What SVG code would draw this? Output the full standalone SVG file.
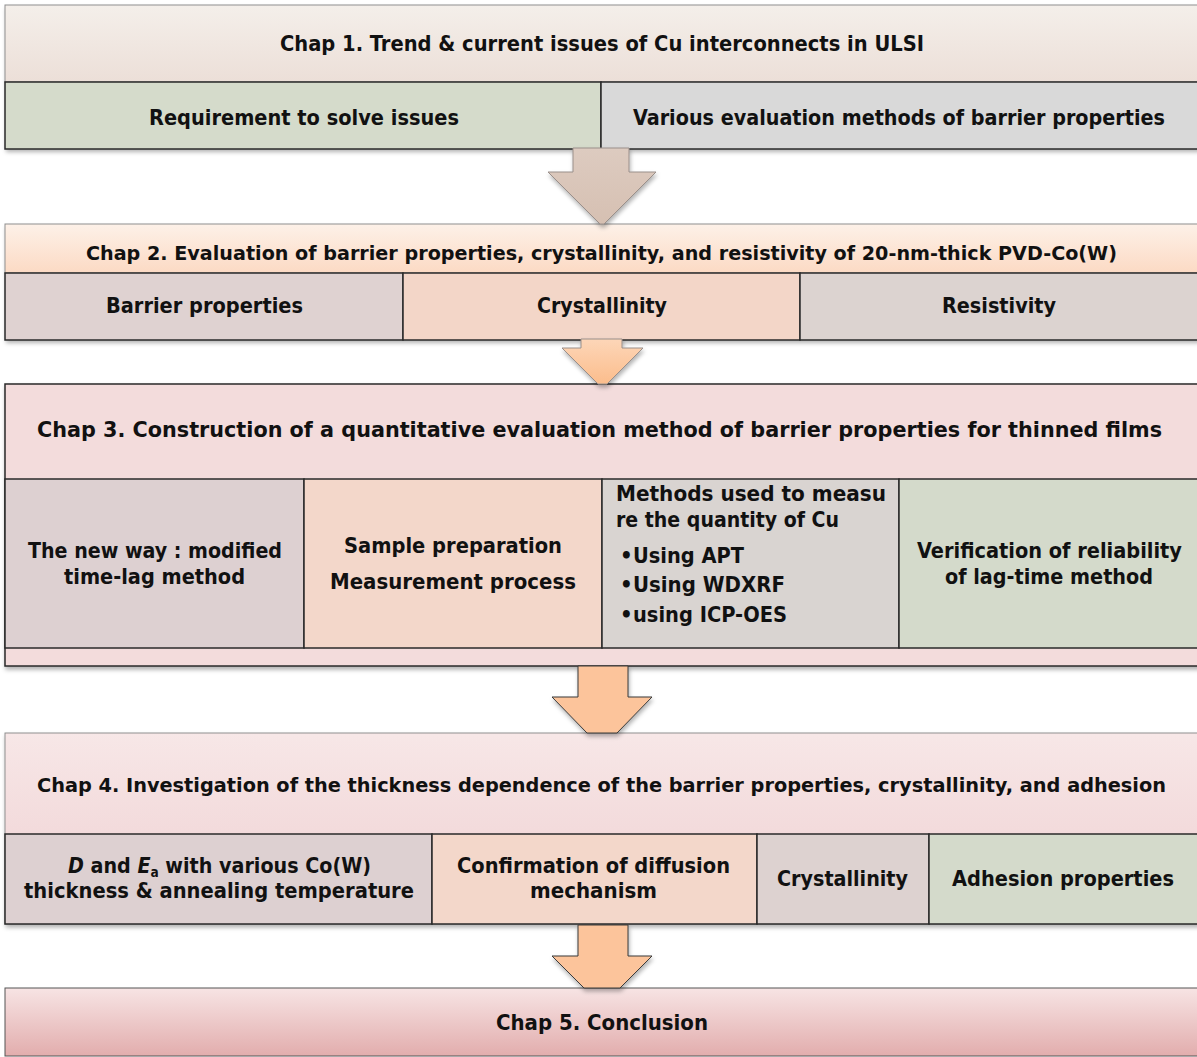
<svg xmlns="http://www.w3.org/2000/svg" width="1197" height="1057" viewBox="0 0 1197 1057">
<style>
.c{font-family:"Liberation Sans Narrow","DejaVu Sans Condensed","Liberation Sans",sans-serif;font-weight:bold;fill:#111;font-size:22px}
.h{font-size:22px}
.v{font-family:"DejaVu Sans","Verdana","Liberation Sans",sans-serif;font-weight:bold;fill:#111;font-size:21px}
.vh{font-size:19px}
.cell{stroke:#2a2a2a;stroke-width:1.5}
.frame{stroke:#8f8f8f;stroke-width:1}
.arrA{stroke:#9a8f8a;stroke-width:1}
.arrB{stroke:#3a3a3a;stroke-width:1}
</style>
<defs>
<filter id="sh" x="-5%" y="-20%" width="110%" height="150%">
<feDropShadow dx="1" dy="3" stdDeviation="2" flood-color="#000" flood-opacity="0.3"/>
</filter>
<linearGradient id="g1" x1="0" y1="0" x2="0" y2="1"><stop offset="0" stop-color="#f4efea"/><stop offset="1" stop-color="#ecdfd8"/></linearGradient>
<linearGradient id="g2" x1="0" y1="0" x2="0" y2="1"><stop offset="0" stop-color="#fdf1e8"/><stop offset="1" stop-color="#fcdac4"/></linearGradient>
<linearGradient id="g4" x1="0" y1="0" x2="0" y2="1"><stop offset="0" stop-color="#f7e7e7"/><stop offset="1" stop-color="#efcfd1"/></linearGradient>
<linearGradient id="g5" x1="0" y1="0" x2="0" y2="1"><stop offset="0" stop-color="#f7e4e4"/><stop offset="1" stop-color="#e2adad"/></linearGradient>
<linearGradient id="ga" x1="0" y1="0" x2="0" y2="1"><stop offset="0" stop-color="#ddcbc0"/><stop offset="1" stop-color="#d6c0b2"/></linearGradient>
<linearGradient id="gb" x1="0" y1="0" x2="0" y2="1"><stop offset="0" stop-color="#fdd6b8"/><stop offset="1" stop-color="#fbbd8c"/></linearGradient>
</defs>

<g id="chap1">
<rect x="5" y="5" width="1195" height="144" fill="#fff" filter="url(#sh)"/>
<rect x="5" y="5" width="1195" height="77" fill="url(#g1)" class="frame"/>
<rect x="5" y="82" width="596" height="67" fill="#d5dbcb" class="cell"/>
<rect x="601" y="82" width="599" height="67" fill="#d9d9d9" class="cell"/>
<text class="c" x="280" y="51" textLength="644" lengthAdjust="spacingAndGlyphs">Chap 1. Trend &amp; current issues of Cu interconnects in ULSI</text>
<text class="c" x="149" y="125" textLength="310" lengthAdjust="spacingAndGlyphs">Requirement to solve issues</text>
<text class="c" x="633" y="125" textLength="532" lengthAdjust="spacingAndGlyphs">Various evaluation methods of barrier properties</text>
</g>

<g id="chap2">
<rect x="5" y="224" width="1195" height="116" fill="#fff" filter="url(#sh)"/>
<rect x="5" y="224" width="1195" height="49" fill="url(#g2)" class="frame"/>
<rect x="5" y="273" width="398" height="67" fill="#dfd2d1" class="cell"/>
<rect x="403" y="273" width="397" height="67" fill="#f3d6c8" class="cell"/>
<rect x="800" y="273" width="400" height="67" fill="#dcd3d0" class="cell"/>
<text class="v vh" x="86" y="260" textLength="1031" lengthAdjust="spacingAndGlyphs">Chap 2. Evaluation of barrier properties, crystallinity, and resistivity of 20-nm-thick PVD-Co(W)</text>
<text class="v" x="106" y="313" textLength="197" lengthAdjust="spacingAndGlyphs">Barrier properties</text>
<text class="v" x="537" y="313" textLength="130" lengthAdjust="spacingAndGlyphs">Crystallinity</text>
<text class="v" x="942" y="313" textLength="114" lengthAdjust="spacingAndGlyphs">Resistivity</text>
</g>

<g id="chap3">
<rect x="5" y="384" width="1195" height="282" fill="#f3dcdc" class="cell" filter="url(#sh)"/>
<rect x="5" y="479" width="299" height="169" fill="#ddd0d1" class="cell"/>
<rect x="304" y="479" width="298" height="169" fill="#f3d7ca" class="cell"/>
<rect x="602" y="479" width="297" height="169" fill="#d9d4d1" class="cell"/>
<rect x="899" y="479" width="301" height="169" fill="#d4dacb" class="cell"/>
<text class="c h" x="37" y="437" textLength="1125" lengthAdjust="spacingAndGlyphs">Chap 3. Construction of a quantitative evaluation method of barrier properties for thinned films</text>
<text class="c" x="28" y="558" textLength="254" lengthAdjust="spacingAndGlyphs">The new way : modified</text>
<text class="c" x="64" y="584" textLength="181" lengthAdjust="spacingAndGlyphs">time-lag method</text>
<text class="c" x="344" y="553" textLength="218" lengthAdjust="spacingAndGlyphs">Sample preparation</text>
<text class="c" x="330" y="589" textLength="246" lengthAdjust="spacingAndGlyphs">Measurement process</text>
<text class="c" x="616" y="501" textLength="270" lengthAdjust="spacingAndGlyphs">Methods used to measu</text>
<text class="c" x="616" y="527" textLength="223" lengthAdjust="spacingAndGlyphs">re the quantity of Cu</text>
<text class="c" x="620" y="563">•</text>
<text class="c" x="633" y="563" textLength="111" lengthAdjust="spacingAndGlyphs">Using APT</text>
<text class="c" x="620" y="592">•</text>
<text class="c" x="633" y="592" textLength="152" lengthAdjust="spacingAndGlyphs">Using WDXRF</text>
<text class="c" x="620" y="622">•</text>
<text class="c" x="633" y="622" textLength="154" lengthAdjust="spacingAndGlyphs">using ICP-OES</text>
<text class="c" x="917" y="558" textLength="265" lengthAdjust="spacingAndGlyphs">Verification of reliability</text>
<text class="c" x="945" y="584" textLength="208" lengthAdjust="spacingAndGlyphs">of lag-time method</text>
</g>

<g id="chap4">
<rect x="5" y="733" width="1195" height="191" fill="url(#g4)" class="frame" filter="url(#sh)"/>
<rect x="5" y="834" width="427" height="90" fill="#ddd0d1" class="cell"/>
<rect x="432" y="834" width="325" height="90" fill="#f3d7ca" class="cell"/>
<rect x="757" y="834" width="172" height="90" fill="#ddd2d0" class="cell"/>
<rect x="929" y="834" width="271" height="90" fill="#d4dacb" class="cell"/>
<text class="c" x="37" y="792" textLength="1129" lengthAdjust="spacingAndGlyphs" style="font-size:20px">Chap 4. Investigation of the thickness dependence of the barrier properties, crystallinity, and adhesion</text>
<text class="c" x="68" y="873" textLength="303" lengthAdjust="spacingAndGlyphs"><tspan font-style="italic">D</tspan> and <tspan font-style="italic">E</tspan><tspan font-size="14" dy="4">a</tspan><tspan dy="-4"> with various Co(W)</tspan></text>
<text class="c" x="24" y="898" textLength="390" lengthAdjust="spacingAndGlyphs">thickness &amp; annealing temperature</text>
<text class="c" x="457" y="873" textLength="273" lengthAdjust="spacingAndGlyphs">Confirmation of diffusion</text>
<text class="c" x="530" y="898" textLength="127" lengthAdjust="spacingAndGlyphs">mechanism</text>
<text class="c" x="777" y="886" textLength="131" lengthAdjust="spacingAndGlyphs">Crystallinity</text>
<text class="c" x="952" y="886" textLength="222" lengthAdjust="spacingAndGlyphs">Adhesion properties</text>
</g>

<g id="chap5">
<rect x="5" y="988" width="1195" height="68" fill="url(#g5)" stroke="#555" stroke-width="1"/>
<text class="c" x="496" y="1030" textLength="212" lengthAdjust="spacingAndGlyphs">Chap 5. Conclusion</text>
</g>

<g id="connectors">
<polygon points="573,148 629,148 629,172 656,172 604,224 600,224 548,172 573,172" fill="url(#ga)" class="arrA" filter="url(#sh)"/>
<polygon points="581,339 622,339 622,348 643,348 607,384 598,384 562,348 581,348" fill="url(#gb)" class="arrA" filter="url(#sh)"/>
<polygon points="578,666 628,666 628,697 652,697 617,733 587,733 552,697 578,697" fill="#fcc49b" class="arrB" filter="url(#sh)"/>
<polygon points="578,925 628,925 628,956 652,956 620,988 584,988 552,956 578,956" fill="#fcc49b" class="arrB" filter="url(#sh)"/>
</g>
</svg>
